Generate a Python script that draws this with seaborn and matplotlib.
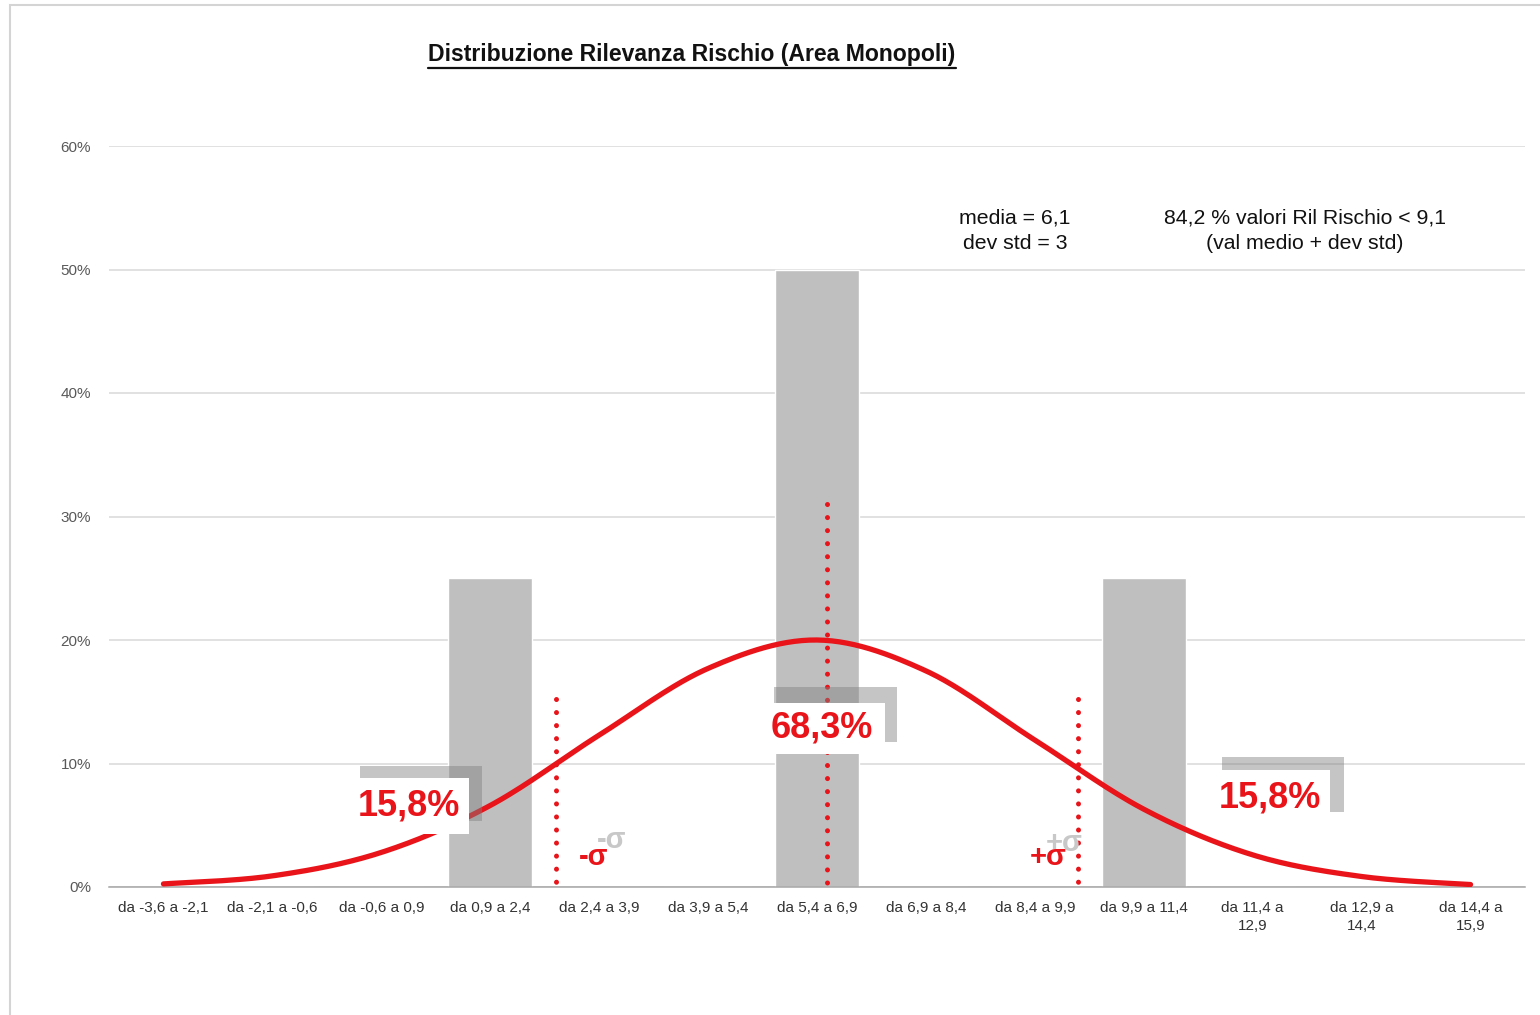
import numpy as np
import pandas as pd
import matplotlib
matplotlib.use("Agg")
import matplotlib.pyplot as plt
import seaborn as sns
from matplotlib.patches import Rectangle
from matplotlib.lines import Line2D
from matplotlib.ticker import FuncFormatter, FixedLocator

# ---------------- data ----------------
categories = ["da -3,6 a -2,1", "da -2,1 a -0,6", "da -0,6 a 0,9", "da 0,9 a 2,4",
              "da 2,4 a 3,9", "da 3,9 a 5,4", "da 5,4 a 6,9", "da 6,9 a 8,4",
              "da 8,4 a 9,9", "da 9,9 a 11,4", "da 11,4 a\n12,9", "da 12,9 a\n14,4",
              "da 14,4 a\n15,9"]
freq_pct = [0, 0, 0, 25, 0, 0, 50, 0, 0, 25, 0, 0, 0]
normal_pct = [0.25, 0.9, 2.8, 6.6, 12.3, 17.7, 20.0, 17.5, 11.9, 6.3, 2.6, 0.85, 0.2]
sigma_x = [3.6, 6.09, 8.4]
sigma_top = [15.2, 31.0, 15.2]
y_ticks = [0, 10, 20, 30, 40, 50, 60]

title = "Distribuzione Rilevanza Rischio (Area Monopoli)"
stats_text = "media = 6,1\ndev std = 3"
note_text = "84,2 % valori Ril Rischio < 9,1\n(val medio + dev std)"

# ---------------- style ----------------
sns.set_theme(style="white")
plt.rcParams["font.family"] = ["Liberation Sans", "DejaVu Sans"]

W, H = 1540, 1015
fig = plt.figure(figsize=(W / 100, H / 100), dpi=100)
fig.patch.set_facecolor("white")
ax = fig.add_axes([109 / W, 1 - 887 / H, 1416 / W, 741 / H])

RED = "#e8141a"
BAR = "#bfbfbf"

df = pd.DataFrame({"cat": categories, "freq": freq_pct, "norm": normal_pct})
df["pos"] = np.arange(len(categories))

sns.barplot(data=df, x="cat", y="freq", color=BAR, saturation=1, width=0.77,
            ax=ax, zorder=2)


def catmull_rom(xs, ys, n=30):
    xs = np.asarray(xs, float)
    ys = np.asarray(ys, float)
    P = np.column_stack([xs, ys])
    P = np.vstack([P[0], P, P[-1]])
    out = []
    t = np.linspace(0, 1, n)[:, None]
    for i in range(1, len(P) - 2):
        p0, p1, p2, p3 = P[i - 1], P[i], P[i + 1], P[i + 2]
        seg = 0.5 * (2 * p1 + (-p0 + p2) * t + (2 * p0 - 5 * p1 + 4 * p2 - p3) * t ** 2
                     + (-p0 + 3 * p1 - 3 * p2 + p3) * t ** 3)
        out.append(seg if i == 1 else seg[1:])
    out = np.vstack(out)
    return out[:, 0], out[:, 1]


sx, sy = catmull_rom(df["pos"], df["norm"])
sns.lineplot(x=sx, y=sy, color=RED, lw=3.8, ax=ax, zorder=4, sort=False,
             solid_capstyle="round")

# dotted sigma lines
for xv, top in zip(sigma_x, sigma_top):
    ax.add_line(Line2D([xv, xv], [top, -0.6], color=RED, lw=3.6,
                       linestyle=(0, (0.01, 2.6)), dash_capstyle="round",
                       zorder=5, clip_on=False))

# axes formatting
ax.set_xlim(-0.5, len(categories) - 0.5)
ax.set_ylim(0, 60)
ax.yaxis.set_major_locator(FixedLocator(y_ticks))
ax.yaxis.set_major_formatter(FuncFormatter(lambda v, p: f"{v:.0f}%"))
ax.grid(axis="y", color="#d9d9d9", lw=1.1, zorder=0)
ax.set_axisbelow(True)
for s in ["left", "right", "top"]:
    ax.spines[s].set_visible(False)
ax.spines["bottom"].set_color("#a6a6a6")
ax.spines["bottom"].set_linewidth(1.1)
ax.set_xlabel("")
ax.set_ylabel("")
ax.tick_params(axis="y", length=0, pad=13, labelsize=11, labelcolor="#595959")
ax.tick_params(axis="x", which="major", length=0, pad=10, labelsize=11, labelcolor="#333333")
ax.set_xticks(np.arange(-0.5, len(categories) + 0.5, 1), minor=True)
ax.tick_params(axis="x", which="minor", length=5, width=1, color="#a6a6a6", direction="out")
for lbl in ax.get_xticklabels():
    lbl.set_linespacing(1.35)
    lbl.set_verticalalignment("top")


# percent boxes: gray shadow + white box + red text
def pct_box(shadow, box, tx, ty, txt):
    sx0, sx1, sy0, sy1 = shadow
    ax.add_patch(Rectangle((sx0, sy0), sx1 - sx0, sy1 - sy0, facecolor="#7f7f7f",
                           alpha=0.45, edgecolor="none", zorder=6))
    bx0, bx1, by0, by1 = box
    ax.add_patch(Rectangle((bx0, by0), bx1 - bx0, by1 - by0, facecolor="white",
                           edgecolor="none", zorder=7))
    ax.text(tx, ty, txt, color=RED, fontsize=26, fontweight="bold", ha="center",
            va="center", zorder=8)


pct_box((1.80, 2.92, 5.34, 9.80), (1.74, 2.805, 4.29, 8.83), 2.25, 6.55, "15,8%")
pct_box((5.607, 6.737, 11.74, 16.19), (5.52, 6.62, 10.77, 14.9), 6.04, 12.85, "68,3%")
pct_box((9.72, 10.84, 6.07, 10.53), (9.61, 10.71, 4.94, 9.47), 10.16, 7.2, "15,8%")

# sigma labels with ghost
ax.text(4.11, 3.8, "-σ", color="#c8c8c8", fontsize=21, fontweight="bold",
        ha="center", va="center", zorder=5)
ax.text(3.95, 2.4, "-σ", color=RED, fontsize=21, fontweight="bold",
        ha="center", va="center", zorder=6)
ax.text(8.27, 3.6, "+σ", color="#c8c8c8", fontsize=21, fontweight="bold",
        ha="center", va="center", zorder=5)
ax.text(8.12, 2.4, "+σ", color=RED, fontsize=21, fontweight="bold",
        ha="center", va="center", zorder=6)

# annotations
fig.text(1015 / W, 1 - 231 / H, stats_text, ha="center", va="center",
         fontsize=15.3, color="#111111", linespacing=1.4)
fig.text(1305 / W, 1 - 231 / H, note_text, ha="center", va="center",
         fontsize=15.3, color="#111111", linespacing=1.4)

# title with underline
t = fig.text(692 / W, 1 - 54 / H, title, ha="center", va="center",
             fontsize=16.6, fontweight="bold", color="#111111",
             family=["Liberation Sans Narrow", "Liberation Sans", "DejaVu Sans"])
fig.canvas.draw()
bb = t.get_window_extent(renderer=fig.canvas.get_renderer())
uy = (bb.y0 - 2) / H
fig.add_artist(Line2D([bb.x0 / W, bb.x1 / W], [uy, uy], color="#111111", lw=1.6,
                      transform=fig.transFigure))

# outer frame
fig.add_artist(Rectangle((10 / W, -0.02), 1.1, (H - 5) / H + 0.02, fill=False,
                         edgecolor="#d4d4d4", lw=1.5, transform=fig.transFigure))

fig.savefig("out.png", dpi=100, facecolor="white")
